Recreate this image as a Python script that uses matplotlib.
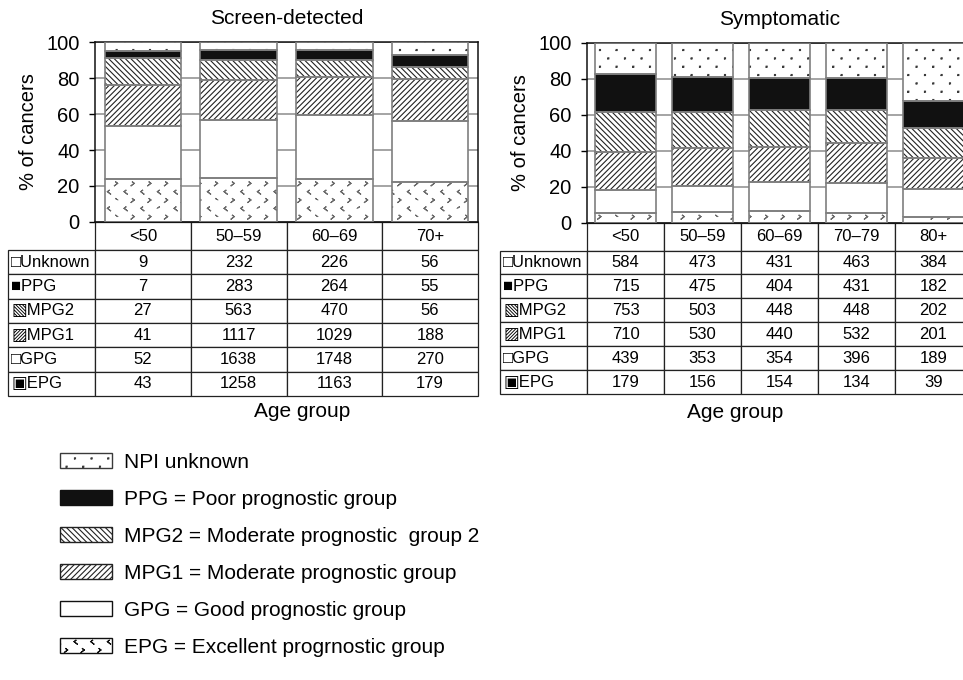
import warnings
import numpy as np
import matplotlib
matplotlib.use('Agg')
import matplotlib.pyplot as plt
from matplotlib import hatch as mhatch
from matplotlib.path import Path
from matplotlib.patches import Patch

# custom hatch characters ':' and '<' are not in the built-in list
warnings.filterwarnings('ignore', message='hatch must consist')

plt.rcParams['font.family'] = ['Liberation Sans', 'DejaVu Sans']
plt.rcParams['hatch.linewidth'] = 0.8

groups = ['Unknown', 'PPG', 'MPG2', 'MPG1', 'GPG', 'EPG']
row_icons = ['□', '■', '▧', '▨', '□', '▣']

age_screen = ['<50', '50–59', '60–69', '70+']
unknown_screen = [9, 232, 226, 56]
ppg_screen = [7, 283, 264, 55]
mpg2_screen = [27, 563, 470, 56]
mpg1_screen = [41, 1117, 1029, 188]
gpg_screen = [52, 1638, 1748, 270]
epg_screen = [43, 1258, 1163, 179]

age_symp = ['<50', '50–59', '60–69', '70–79', '80+']
unknown_symp = [584, 473, 431, 463, 384]
ppg_symp = [715, 475, 404, 431, 182]
mpg2_symp = [753, 503, 448, 448, 202]
mpg1_symp = [710, 530, 440, 532, 201]
gpg_symp = [439, 353, 354, 396, 189]
epg_symp = [179, 156, 154, 134, 39]

legend_labels = ['NPI unknown',
                 'PPG = Poor prognostic group',
                 'MPG2 = Moderate prognostic  group 2',
                 'MPG1 = Moderate prognostic group',
                 'GPG = Good prognostic group',
                 'EPG = Excellent progrnostic group']

# face colour, hatch colour, hatch
styles = {
    'Unknown': ('white', '#3a3a3a', ':'),
    'PPG': ('#111111', '#111111', None),
    'MPG2': ('white', '#222222', '\\' * 6),
    'MPG1': ('white', '#222222', '/' * 6),
    'GPG': ('white', 'white', None),
    'EPG': ('white', '#6a6a6a', '<'),
}


class StaggeredMarks(mhatch.HatchPatternBase):
    # rows of small marks, every other row shifted by half a step
    char = None
    even_shape = None
    odd_shape = None

    def __init__(self, hatch, density):
        n = hatch.count(self.char)
        self.num_cols = n * density
        self.num_rows = 2 * n * density
        shapes = ((self.num_rows // 2 + 1) * (self.num_cols + 1)
                  + (self.num_rows // 2) * self.num_cols)
        self.num_vertices = shapes * len(self.even_shape) if n else 0

    def set_vertices_and_codes(self, vertices, codes):
        parts = []
        for row in range(self.num_rows + 1):
            y = row / self.num_rows
            if row % 2 == 0:
                xs = np.linspace(0, 1, self.num_cols + 1)
                shape = self.even_shape
            else:
                xs = (np.arange(self.num_cols) + 0.5) / self.num_cols
                shape = self.odd_shape
            for x in xs:
                parts.append(shape + [x, y])
        vertices[:] = np.concatenate(parts)
        shape_codes = [Path.MOVETO] + [Path.LINETO] * (len(self.even_shape) - 1)
        codes[:] = np.tile(shape_codes, len(parts))


class SparseDots(StaggeredMarks):
    char = ':'
    d = 0.005
    even_shape = np.array([[-d, -d], [d, -d], [d, d], [-d, d], [-d, -d]])
    odd_shape = even_shape


class Chevrons(StaggeredMarks):
    char = '<'
    # drawn out and back so the filled area is zero
    even_shape = np.array([[-0.009, 0.014], [0.009, 0], [-0.009, -0.014],
                           [0.009, 0], [-0.009, 0.014]])
    odd_shape = even_shape * [-1, 1]


mhatch._hatch_types.append(SparseDots)
mhatch._hatch_types.append(Chevrons)


def stacked_panel(ax, ages, counts, title, table_box, label_w, data_w, xlabel_x):
    counts = np.array(counts, dtype=float)   # rows in groups order
    pct = counts / counts.sum(axis=0) * 100
    x = np.arange(len(ages))

    bottom = np.zeros(len(ages))
    for i in range(len(groups) - 1, -1, -1):
        face, hcol, hatch = styles[groups[i]]
        ax.bar(x, pct[i], 0.8, bottom=bottom, color=face, edgecolor=hcol,
               linewidth=0, hatch=hatch, zorder=2)
        ax.bar(x, pct[i], 0.8, bottom=bottom, fill=False,
               edgecolor='#7f7f7f', linewidth=1.2, zorder=3)
        bottom += pct[i]

    ax.set_xlim(-0.5, len(ages) - 0.5)
    ax.set_ylim(0, 100)
    ax.set_yticks(range(0, 101, 20))
    ax.set_xticks([])
    ax.tick_params(axis='y', labelsize=14.5, length=4, width=1, pad=7)
    ax.set_axisbelow(True)
    ax.yaxis.grid(True, color='#8c8c8c', linewidth=1.1)
    for s in ax.spines.values():
        s.set_color('#111111')
        s.set_linewidth(1.1)
    ax.set_ylabel('% of cancers', fontsize=14.5, labelpad=6)
    ax.set_title(title, fontsize=15, pad=13)

    cell_text = [[icon + label] + [str(int(v)) for v in row]
                 for icon, label, row in zip(row_icons, groups, counts)]
    tbl = ax.table(cellText=cell_text, colLabels=[''] + list(ages),
                   cellLoc='center', bbox=table_box)
    tbl.auto_set_font_size(False)
    tbl.set_fontsize(12)
    for (r, c), cell in tbl.get_celld().items():
        cell.set_height(28 if r == 0 else 24.3)
        cell.set_width(label_w if c == 0 else data_w)
        cell.set_edgecolor('#222222')
        cell.set_linewidth(0.9)
        if c == 0:
            cell.PAD = 0.04
            cell.get_text().set_ha('left')
    tbl[0, 0].visible_edges = ''

    ax.text(xlabel_x, -1.055, 'Age group', transform=ax.transAxes,
            ha='center', va='center', fontsize=15)


def main():
    fig = plt.figure(figsize=(9.63, 6.8), dpi=100)

    ax1 = fig.add_axes([95 / 963, 1 - 222 / 680, 383 / 963, 180 / 680])
    screen = [unknown_screen, ppg_screen, mpg2_screen, mpg1_screen,
              gpg_screen, epg_screen]
    stacked_panel(ax1, age_screen, screen, 'Screen-detected',
                  [-87 / 383, -174 / 180, 470 / 383, 174 / 180],
                  87, 95.75, 0.54)

    ax2 = fig.add_axes([587 / 963, 1 - 223 / 680, 385 / 963, 180 / 680])
    symp = [unknown_symp, ppg_symp, mpg2_symp, mpg1_symp, gpg_symp, epg_symp]
    stacked_panel(ax2, age_symp, symp, 'Symptomatic',
                  [-87 / 385, -171 / 180, 472 / 385, 171 / 180],
                  87, 77, 0.384)

    handles = []
    for g in groups:
        face, hcol, hatch = styles[g]
        edge = hcol if g not in ('GPG', 'EPG') else '#111111'
        handles.append(Patch(facecolor=face, edgecolor=edge, hatch=hatch,
                             linewidth=1.0))
    fig.legend(handles, legend_labels, loc='upper left',
               bbox_to_anchor=(60 / 963, 1 - 453 / 680), frameon=False,
               fontsize=15, handlelength=2.5, handleheight=0.7,
               handletextpad=0.55, labelspacing=0.86, borderpad=0,
               borderaxespad=0)

    fig.savefig('out.png', dpi=100)


if __name__ == "__main__":
    main()
